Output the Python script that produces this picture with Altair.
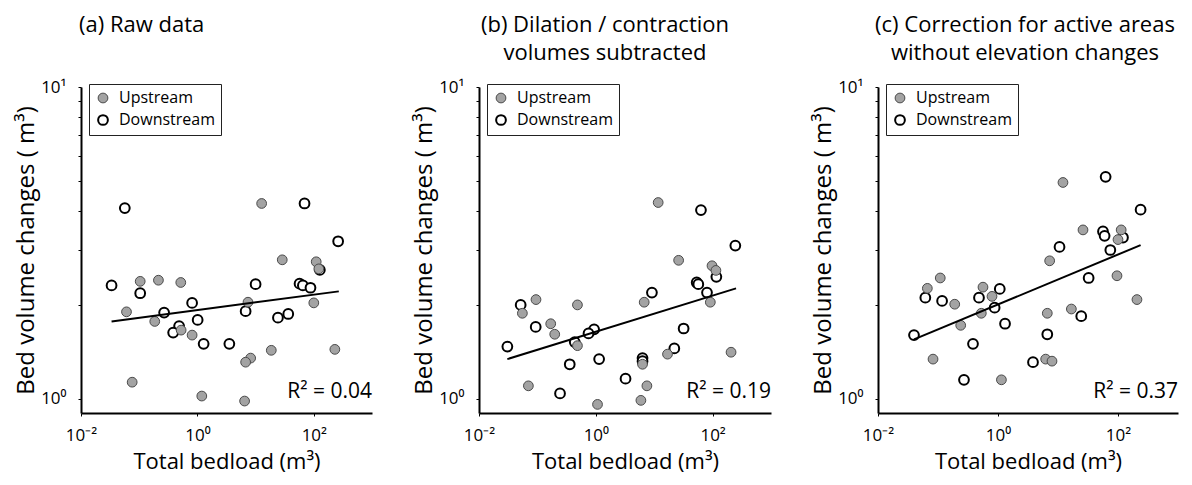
import altair as alt
import pandas as pd

# ---------------- data ----------------
locations = ["Upstream", "Downstream"]

up_a_x = [12.7, 28.7, 110, 122, 0.104, 0.214, 0.518, 0.0605, 0.185, 0.525, 0.811, 7.40, 100, 18.6, 8.22, 6.74, 230, 0.0757, 1.19, 6.47]
up_a_y = [4.23, 2.79, 2.75, 2.61, 2.38, 2.40, 2.36, 1.90, 1.77, 1.66, 1.60, 2.04, 2.03, 1.43, 1.35, 1.31, 1.44, 1.13, 1.02, 0.983]
dn_a_x = [0.0566, 69.3, 262, 0.0335, 0.104, 0.268, 0.811, 1.01, 0.485, 0.383, 1.28, 3.54, 10.0, 6.74, 24.2, 36.4, 56.9, 64.9, 87.7, 127]
dn_a_y = [4.09, 4.23, 3.20, 2.31, 2.18, 1.89, 2.03, 1.79, 1.71, 1.63, 1.50, 1.50, 2.33, 1.91, 1.82, 1.87, 2.34, 2.31, 2.27, 2.59]
fit_a_x = [0.0335, 269]
fit_a_y = [1.77, 2.21]

up_b_x = [11.7, 26.2, 97.7, 114, 91.4, 6.74, 0.0946, 0.485, 0.0553, 0.169, 0.198, 0.485, 16.9, 6.31, 207, 7.5, 5.92, 1.07, 0.0701]
up_b_y = [4.26, 2.78, 2.67, 2.58, 2.04, 2.04, 2.08, 2.00, 1.88, 1.74, 1.61, 1.48, 1.39, 1.29, 1.41, 1.10, 0.988, 0.959, 1.10]
dn_b_x = [63.2, 245, 53.4, 56.9, 116, 80.2, 9.14, 31.9, 22.1, 6.31, 6.31, 3.23, 0.244, 1.14, 0.358, 0.935, 0.750, 0.0935, 0.0517, 0.0306, 0.436]
dn_b_y = [4.03, 3.10, 2.36, 2.33, 2.46, 2.19, 2.19, 1.68, 1.45, 1.35, 1.32, 1.16, 1.04, 1.34, 1.29, 1.67, 1.62, 1.70, 2.00, 1.47, 1.52]
fit_b_x = [0.0306, 252]
fit_b_y = [1.34, 2.26]

up_c_x = [12.1, 26.1, 113, 100, 7.26, 96.2, 207, 0.109, 0.0664, 0.190, 0.562, 0.794, 0.527, 0.239, 6.63, 16.7, 0.0826, 6.23, 7.94, 1.14]
up_c_y = [4.94, 3.48, 3.48, 3.24, 2.77, 2.48, 2.08, 2.44, 2.26, 2.01, 2.28, 2.13, 1.88, 1.72, 1.88, 1.94, 1.34, 1.34, 1.32, 1.15]
dn_c_x = [62.2, 238, 56.2, 59.8, 121, 74.5, 10.6, 32.4, 24.4, 6.63, 3.83, 1.31, 1.07, 0.879, 0.482, 0.383, 0.271, 0.117, 0.0615, 0.0398]
dn_c_y = [5.15, 4.04, 3.44, 3.33, 3.29, 3.00, 3.07, 2.44, 1.84, 1.61, 1.31, 1.74, 2.25, 1.96, 2.11, 1.50, 1.15, 2.06, 2.11, 1.60]
fit_c_x = [0.0398, 238]
fit_c_y = [1.55, 3.11]

r2_labels = ["R² = 0.04", "R² = 0.19", "R² = 0.37"]
titles = [
    ["(a) Raw data"],
    ["(b) Dilation / contraction", "volumes subtracted"],
    ["(c) Correction for active areas", "without elevation changes"],
]
x_ticks = [0.01, 1, 100]
y_ticks = [1, 2, 3, 4, 5, 6, 7, 8, 9, 10]

FONT = "Open Sans"
H = 326


def panel(ux, uy, dx, dy, fx, fy, r2, title, width, toffset, talign, tdx):
    pts = pd.DataFrame(
        {
            "x": list(ux) + list(dx),
            "y": list(uy) + list(dy),
            "loc": ["Upstream"] * len(ux) + ["Downstream"] * len(dx),
        }
    )
    fit = pd.DataFrame({"x": fx, "y": fy})
    ann = pd.DataFrame({"t": [r2]})

    xenc = alt.X(
        "x:Q",
        scale=alt.Scale(type="log", domain=[0.01, 1000], nice=False),
        axis=alt.Axis(
            values=x_ticks,
            labelExpr="datum.value < 0.1 ? '10⁻²' : (datum.value < 10 ? '10⁰' : '10²')",
            title="Total bedload (m³)",
            grid=False,
            labelFlush=False,
            labelOverlap=False,
            tickSize=3,
            labelPadding=11,
            titlePadding=8,
            labelFontSize=17,
            titleFontSize=22,
        ),
    )
    yenc = alt.Y(
        "y:Q",
        scale=alt.Scale(type="log", domain=[0.9, 10], nice=False),
        axis=alt.Axis(
            values=y_ticks,
            labelExpr="datum.value == 1 ? '10⁰' : (datum.value == 10 ? '10¹' : '')",
            title="Bed volume changes ( m³)",
            grid=False,
            labelFlush=False,
            labelOverlap=False,
            tickSize=3,
            labelPadding=12,
            titlePadding=2,
            labelFontSize=17,
            titleFontSize=24,
        ),
    )

    leg = alt.Legend(
        title=None,
        orient="none",
        legendX=8,
        legendY=-3,
        strokeColor="#222222",
        fillColor="white",
        padding=6,
        labelFontSize=16,
        labelFont=FONT,
        symbolType="circle",
        symbolSize=95,
        rowPadding=5,
        labelOffset=8,
    )
    points = (
        alt.Chart(pts)
        .mark_circle(size=95, opacity=1)
        .encode(
            x=xenc,
            y=yenc,
            fill=alt.Fill("loc:N", scale=alt.Scale(domain=locations, range=["#a3a3a3", "#ffffff"]), legend=leg),
            stroke=alt.Stroke("loc:N", scale=alt.Scale(domain=locations, range=["#4a4a4a", "#000000"]), legend=leg),
            strokeWidth=alt.StrokeWidth("loc:N", scale=alt.Scale(domain=locations, range=[1.0, 2.0]), legend=leg),
            order=alt.Order("loc:N", sort="ascending"),
        )
    )
    line = alt.Chart(fit).mark_line(color="black", strokeWidth=2).encode(x="x:Q", y="y:Q")
    text = (
        alt.Chart(ann)
        .mark_text(align="right", baseline="alphabetic", fontSize=21, font=FONT, color="black")
        .encode(text="t:N", x=alt.value(width), y=alt.value(311))
    )
    return (points + line + text).properties(
        width=width,
        height=H,
        title=alt.TitleParams(
            text=title,
            anchor="start",
            align=talign,
            dx=tdx,
            frame="group",
            offset=toffset,
            fontSize=22,
            font=FONT,
            fontWeight="normal",
            lineHeight=28,
            color="black",
        ),
    )


pa = panel(up_a_x, up_a_y, dn_a_x, dn_a_y, fit_a_x, fit_a_y, r2_labels[0], titles[0], 291, 41, "left", -2)
pb = panel(up_b_x, up_b_y, dn_b_x, dn_b_y, fit_b_x, fit_b_y, r2_labels[1], titles[1], 292, 13, "center", 126)
pc = panel(up_c_x, up_c_y, dn_c_x, dn_c_y, fit_c_x, fit_c_y, r2_labels[2], titles[2], 300, 13, "center", 147)

chart = (
    alt.hconcat(pa, pb, pc, spacing=40)
    .resolve_scale(x="independent", y="independent", fill="independent", stroke="independent", strokeWidth="independent")
    .resolve_legend(fill="independent", stroke="independent", strokeWidth="independent")
    .configure(font=FONT, background="white", padding={"left": 14, "right": 14, "top": 14, "bottom": 6})
    .configure_view(stroke=None)
    .configure_axis(
        domainColor="black",
        domainWidth=2,
        tickColor="black",
        labelColor="black",
        titleColor="black",
        labelFont=FONT,
        titleFont=FONT,
        titleFontWeight="normal",
    )
)

chart.save("out.html", embed_options={"renderer": "svg", "actions": False})
